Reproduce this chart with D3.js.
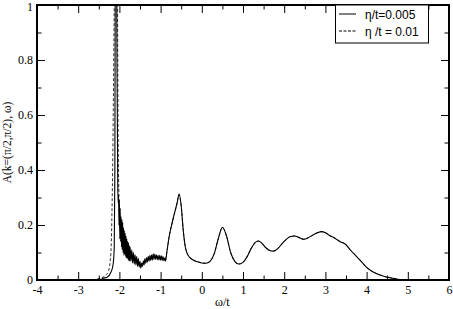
<!DOCTYPE html>
<html>
<head>
<meta charset="utf-8">
<script src="https://cdn.jsdelivr.net/npm/d3@7"></script>
<style>
  body { margin: 0; background: #fff; }
  svg { display: block; }
  .serif { font-family: "Liberation Serif", Tinos, "Times New Roman", "Liberation Sans", sans-serif; }
  .sans { font-family: "Liberation Sans", Arial, sans-serif; }
</style>
</head>
<body>
<div class="chart"></div>
<script>
// data
// eta/t = 0.005 (solid)
var omegaSolid = [-4, -3, -2.7, -2.6, -2.55, -2.5, -2.45, -2.4, -2.3, -2.2, -2.15, -2.125, -2.11, -2.1, -2.09, -2.08, -2.07, -2.05, -2.04, -2.03,
  -2.02, -2.01, -2.00, -1.99, -1.98, -1.97, -1.96, -1.95, -1.94, -1.93, -1.92, -1.91, -1.90, -1.89, -1.88, -1.87, -1.86, -1.85, -1.84, -1.83,
  -1.82, -1.81, -1.80, -1.79, -1.78, -1.77, -1.76, -1.75, -1.74, -1.72, -1.70, -1.68, -1.66, -1.64,
  -1.62, -1.60, -1.58, -1.56, -1.54, -1.52, -1.50, -1.48, -1.46, -1.44, -1.42, -1.40, -1.38, -1.36, -1.34, -1.32, -1.30, -1.28, -1.26, -1.24,
  -1.22, -1.20, -1.18, -1.16, -1.14, -1.12, -1.10, -1.08, -1.06, -1.04, -1.02, -1.00, -0.98, -0.96, -0.94, -0.92, -0.90, -0.88,
  -0.85, -0.79, -0.7, -0.6, -0.55, -0.5, -0.45, -0.4, -0.35, -0.3, -0.2, -0.1, 0, 0.1, 0.2, 0.3, 0.4, 0.5, 0.6, 0.7, 0.8, 0.9, 1.0,
  1.1, 1.2, 1.3, 1.37, 1.45, 1.55, 1.65, 1.74, 1.85, 1.95, 2.05, 2.15, 2.25, 2.35, 2.48, 2.6, 2.75, 2.9, 3.0, 3.1, 3.23, 3.35, 3.48,
  3.6, 3.76, 3.9, 4.0, 4.15, 4.33, 4.5, 4.65, 4.8, 4.97, 6];
var specSolid = [0, 0, 0, 0.002, 0.001, 0.004, 0.002, 0.006, 0.01, 0.03, 0.06, 0.12, 0.4, 1.2, 2.0, 2.0, 1.2, 0.6, 0.35, 0.28,
  0.31, 0.2, 0.29, 0.15, 0.26, 0.14, 0.23, 0.12, 0.22, 0.11, 0.21, 0.1, 0.19, 0.09, 0.18, 0.095, 0.17, 0.085, 0.16, 0.08,
  0.15, 0.08, 0.14, 0.075, 0.135, 0.07, 0.125, 0.07, 0.12, 0.068, 0.11, 0.062, 0.10, 0.058,
  0.092, 0.055, 0.085, 0.05, 0.078, 0.047, 0.068, 0.043, 0.062, 0.048, 0.07, 0.055, 0.078, 0.06, 0.082, 0.065, 0.086, 0.068, 0.09, 0.07,
  0.092, 0.072, 0.095, 0.074, 0.094, 0.075, 0.092, 0.074, 0.09, 0.073, 0.09, 0.072, 0.088, 0.071, 0.085, 0.07, 0.08, 0.068,
  0.1, 0.16, 0.22, 0.28, 0.313, 0.27, 0.18, 0.12, 0.095, 0.083, 0.072, 0.066, 0.062, 0.061, 0.068, 0.095, 0.15, 0.192, 0.16, 0.1, 0.068, 0.058, 0.064,
  0.085, 0.115, 0.137, 0.142, 0.135, 0.118, 0.107, 0.105, 0.115, 0.132, 0.148, 0.158, 0.16, 0.155, 0.148, 0.155, 0.168, 0.176, 0.172, 0.162, 0.152, 0.14, 0.131,
  0.11, 0.085, 0.062, 0.046, 0.03, 0.018, 0.01, 0.006, 0.002, 0, 0];

// eta/t = 0.01 (dashed)
var omegaDashed = [-4, -2.7, -2.6, -2.5, -2.45, -2.4, -2.35, -2.3, -2.26, -2.23, -2.2, -2.18, -2.16, -2.14, -2.12, -2.1, -2.08, -2.06, -2.05, -2.04, -2.03,
  -2.0, -1.97, -1.9, -1.8, -1.7, -1.6, -1.48, -1.4, -1.3, -1.2, -1.1, -1.0, -0.9,
  -0.85, -0.79, -0.7, -0.6, -0.55, -0.5, -0.45, -0.4, -0.35, -0.3, -0.2, -0.1, 0, 0.1, 0.2, 0.3, 0.4, 0.5, 0.6, 0.7, 0.8, 0.9, 1.0,
  1.1, 1.2, 1.3, 1.37, 1.45, 1.55, 1.65, 1.74, 1.85, 1.95, 2.05, 2.15, 2.25, 2.35, 2.48, 2.6, 2.75, 2.9, 3.0, 3.1, 3.23, 3.35, 3.48,
  3.6, 3.76, 3.9, 4.0, 4.15, 4.33, 4.5, 4.65, 4.8, 4.97, 6];
var specDashed = [0, 0, 0.002, 0.004, 0.006, 0.01, 0.015, 0.022, 0.035, 0.06, 0.12, 0.25, 0.45, 0.75, 1.1, 1.5, 1.8, 1.6, 1.2, 0.8, 0.5,
  0.25, 0.17, 0.13, 0.1, 0.085, 0.07, 0.055, 0.065, 0.075, 0.082, 0.083, 0.08, 0.075,
  0.1, 0.16, 0.22, 0.28, 0.31, 0.27, 0.18, 0.12, 0.095, 0.083, 0.072, 0.066, 0.062, 0.061, 0.068, 0.095, 0.15, 0.19, 0.16, 0.1, 0.068, 0.058, 0.064,
  0.085, 0.115, 0.137, 0.142, 0.135, 0.118, 0.107, 0.105, 0.115, 0.132, 0.148, 0.158, 0.16, 0.155, 0.148, 0.155, 0.168, 0.176, 0.172, 0.162, 0.152, 0.14, 0.131,
  0.11, 0.085, 0.062, 0.046, 0.03, 0.018, 0.01, 0.006, 0.002, 0, 0];

var xTicks = [-4, -3, -2, -1, 0, 1, 2, 3, 4, 5, 6];
var yTicks = [0, 0.2, 0.4, 0.6, 0.8, 1];
var legendLabels = ["\u03b7/t=0.005", "\u03b7 /t = 0.01"];

// dimensions
var svgWidth = 453;
var svgHeight = 309;
var margin = { top: 5, right: 4, bottom: 29, left: 37 };
var width = svgWidth - margin.left - margin.right;
var height = svgHeight - margin.top - margin.bottom;

var svg = d3.select(".chart")
  .append("svg")
  .attr("width", svgWidth)
  .attr("height", svgHeight);

var chartGroup = svg.append("g")
  .attr("transform", `translate(${margin.left}, ${margin.top})`);

var x = d3.scaleLinear().domain([-4, 6]).range([0, width]);
var y = d3.scaleLinear().domain([0, 1]).range([height, 0]);

svg.append("defs").append("clipPath")
  .attr("id", "plotclip")
  .append("rect")
  .attr("width", width)
  .attr("height", height);

// curves
var line = d3.line()
  .x(d => x(d[0]))
  .y(d => y(d[1]))
  .curve(d3.curveMonotoneX);

var dashedData = omegaDashed.map((w, i) => [w, specDashed[i]]);
var solidData = omegaSolid.map((w, i) => [w, specSolid[i]]);

var curves = chartGroup.append("g").attr("clip-path", "url(#plotclip)");
curves.append("path")
  .datum(dashedData)
  .attr("d", line)
  .attr("fill", "none")
  .attr("stroke", "#333")
  .attr("stroke-width", 1)
  .attr("stroke-dasharray", "3,2");
curves.append("path")
  .datum(solidData)
  .attr("d", line)
  .attr("fill", "none")
  .attr("stroke", "#000")
  .attr("stroke-width", 1.1);

// axes, ticks point inward on all four sides
var minorX = d3.range(-3.5, 6, 1);
var minorY = d3.range(0.1, 1, 0.2);

function tickAxis(axis, ticks, size, fmt) {
  return axis.tickValues(ticks).tickSize(size).tickFormat(fmt);
}

// bottom
chartGroup.append("g")
  .attr("transform", `translate(0, ${height})`)
  .call(tickAxis(d3.axisBottom(x), xTicks, -8, d => d))
  .call(g => g.selectAll("text").attr("y", 5).attr("dy", "0.71em"));
chartGroup.append("g")
  .attr("transform", `translate(0, ${height})`)
  .call(tickAxis(d3.axisBottom(x), minorX, -4.5, ""));
// top
chartGroup.append("g")
  .call(tickAxis(d3.axisTop(x), xTicks, -8, ""));
chartGroup.append("g")
  .call(tickAxis(d3.axisTop(x), minorX, -4.5, ""));
// left
chartGroup.append("g")
  .call(tickAxis(d3.axisLeft(y), yTicks, -8, d => d))
  .call(g => g.selectAll("text").attr("x", -4))
  .call(g => g.selectAll("text").filter(d => d === 1).attr("dy", "0.32em").attr("y", 2));
chartGroup.append("g")
  .call(tickAxis(d3.axisLeft(y), minorY, -4.5, ""));
// right
chartGroup.append("g")
  .attr("transform", `translate(${width}, 0)`)
  .call(tickAxis(d3.axisRight(y), yTicks, -8, ""));
chartGroup.append("g")
  .attr("transform", `translate(${width}, 0)`)
  .call(tickAxis(d3.axisRight(y), minorY, -4.5, ""));

chartGroup.selectAll(".domain").remove();
chartGroup.selectAll("g").attr("font-family", null).attr("font-size", null);
chartGroup.selectAll(".tick line").attr("stroke", "#000").attr("stroke-width", 1);
chartGroup.selectAll(".tick text")
  .attr("fill", "#000")
  .attr("class", "serif")
  .attr("font-size", "12px");

// frame
chartGroup.append("rect")
  .attr("width", width)
  .attr("height", height)
  .attr("fill", "none")
  .attr("stroke", "#000")
  .attr("stroke-width", 2);

// axis labels
svg.append("text")
  .attr("class", "serif")
  .attr("x", margin.left + x(0.5))
  .attr("y", 306)
  .attr("text-anchor", "middle")
  .attr("font-size", "12px")
  .text("\u03c9/t");

svg.append("text")
  .attr("class", "serif")
  .attr("transform", `translate(11, ${margin.top + height / 2}) rotate(-90)`)
  .attr("text-anchor", "middle")
  .attr("font-size", "11.5px")
  .text("A(k=(\u03c0/2,\u03c0/2), \u03c9)");

// legend
var legend = svg.append("g");
legend.append("rect")
  .attr("x", 335.5)
  .attr("y", 5)
  .attr("width", 93)
  .attr("height", 38)
  .attr("fill", "#fff")
  .attr("stroke", "#000")
  .attr("stroke-width", 1);

legendLabels.forEach(function(label, i) {
  var ly = 14 + i * 17;
  legend.append("line")
    .attr("x1", 339).attr("x2", 356)
    .attr("y1", ly).attr("y2", ly)
    .attr("stroke", "#000")
    .attr("stroke-width", 1)
    .attr("stroke-dasharray", i === 1 ? "3,1.5" : null);
  legend.append("text")
    .attr("class", "sans")
    .attr("x", 365)
    .attr("y", ly + 4.5)
    .attr("font-size", "12px")
    .text(label);
});
</script>
</body>
</html>
